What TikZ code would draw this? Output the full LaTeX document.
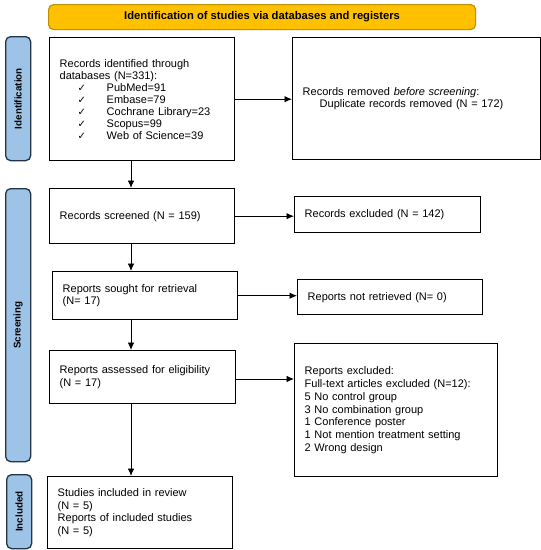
\documentclass[tikz,border=0pt]{standalone}
\usepackage{fontspec}
\setmainfont{Liberation Sans}
\newfontfamily\djv{DejaVu Sans}
\usetikzlibrary{arrows.meta}
\definecolor{bannerfill}{HTML}{FFC000}
\definecolor{bannerbd}{HTML}{BF9000}
\definecolor{sidefill}{HTML}{9DC3E6}
\definecolor{sidebd}{HTML}{243447}
\newcommand{\ck}{\hspace*{18pt}\makebox[29pt][l]{\djv\fontsize{10}{10}\selectfont ✓}}
\begin{document}
\begin{tikzpicture}[x=1pt,y=-1pt,
  box/.style={draw=black,line width=1.4pt,anchor=north west,align=left,
    inner xsep=10pt,inner ysep=0pt,font=\fontsize{11}{12.7}\selectfont},
  side/.style={draw=sidebd,fill=sidefill,rounded corners=5pt,line width=1.3pt,
    anchor=north west,inner sep=0pt,minimum width=25pt},
  sidetext/.style={rotate=90,font=\bfseries\fontsize{9.8}{10}\selectfont},
  arr/.style={-{Latex[length=7.5pt,width=6.5pt]},line width=0.9pt}
]
\useasboundingbox (0,0) rectangle (541,550);

% banner
\node[draw=bannerbd,fill=bannerfill,rounded corners=5pt,line width=1.2pt,
  anchor=north west,minimum width=427pt,minimum height=25pt,inner sep=0pt,
  font=\bfseries\fontsize{11.2}{12}\selectfont] (ban) at (48,4)
  {Identification of studies via databases and registers};

% side bars
\node[side,minimum height=124pt] (s1) at (5,36) {};
\node[sidetext] (s1t) at (s1.center) {Identification};
\node[side,minimum height=273pt] (s2) at (5,188) {};
\node[sidetext] (s2t) at (s2.center) {Screening};
\node[side,minimum height=74pt] (s3) at (6,474) {};
\node[sidetext] (s3t) at (s3.center) {Included};

% boxes
\node[box,minimum width=185pt,minimum height=123pt,text width=165pt,
  font=\fontsize{11}{12}\selectfont] (b1) at (49,37)
  {Records identified through\\
   databases (N=331):\\
   \ck PubMed=91\\
   \ck Embase=79\\
   \ck Cochrane Library=23\\
   \ck Scopus=99\\
   \ck Web of Science=39};
\node[box,minimum width=248pt,minimum height=122pt,text width=228pt] (b2) at (292,37)
  {Records removed \textit{before screening}:\\
   \hspace*{17pt}Duplicate records removed (N = 172)};

\node[box,minimum width=185pt,minimum height=55pt,text width=165pt] (rs) at (49,188)
  {Records screened (N = 159)};
\node[box,minimum width=186pt,minimum height=36pt,text width=166pt] (re) at (294,196)
  {Records excluded (N = 142)};

\node[box,minimum width=185pt,minimum height=48pt,text width=165pt] (so) at (52,271)
  {Reports sought for retrieval\\(N= 17)};
\node[box,minimum width=185pt,minimum height=35pt,text width=165pt] (nr) at (297,279)
  {Reports not retrieved (N= 0)};

\node[box,minimum width=186pt,minimum height=53pt,text width=166pt] (ra) at (49,350)
  {Reports assessed for eligibility\\(N = 17)};
\node[box,minimum width=203pt,minimum height=133pt,text width=183pt] (rx) at (294,343)
  {Reports excluded:\\
   Full-text articles excluded (N=12):\\
   5 No control group\\
   3 No combination group\\
   1 Conference poster\\
   1 Not mention treatment setting\\
   2 Wrong design};

\node[box,minimum width=185pt,minimum height=72pt,text width=165pt] (si) at (47,476)
  {Studies included in review\\(N = 5)\\Reports of included studies\\(N = 5)};

% arrows
\coordinate (ax) at (131,0);
\draw[arr] (b1.south -| ax) -- (rs.north -| ax);
\draw[arr] (rs.south -| ax) -- (so.north -| ax);
\draw[arr] (so.south -| ax) -- (ra.north -| ax);
\draw[arr] (ra.south -| ax) -- (si.north -| ax);

\draw[arr] (b1.east) -- (b1.east -| b2.west);
\draw[arr] (rs.east) -- (rs.east -| re.west);
\draw[arr] (so.east) -- (so.east -| nr.west);
\coordinate (ay) at (0,379);
\draw[arr] (ra.east |- ay) -- (rx.west |- ay);
\end{tikzpicture}
\end{document}
